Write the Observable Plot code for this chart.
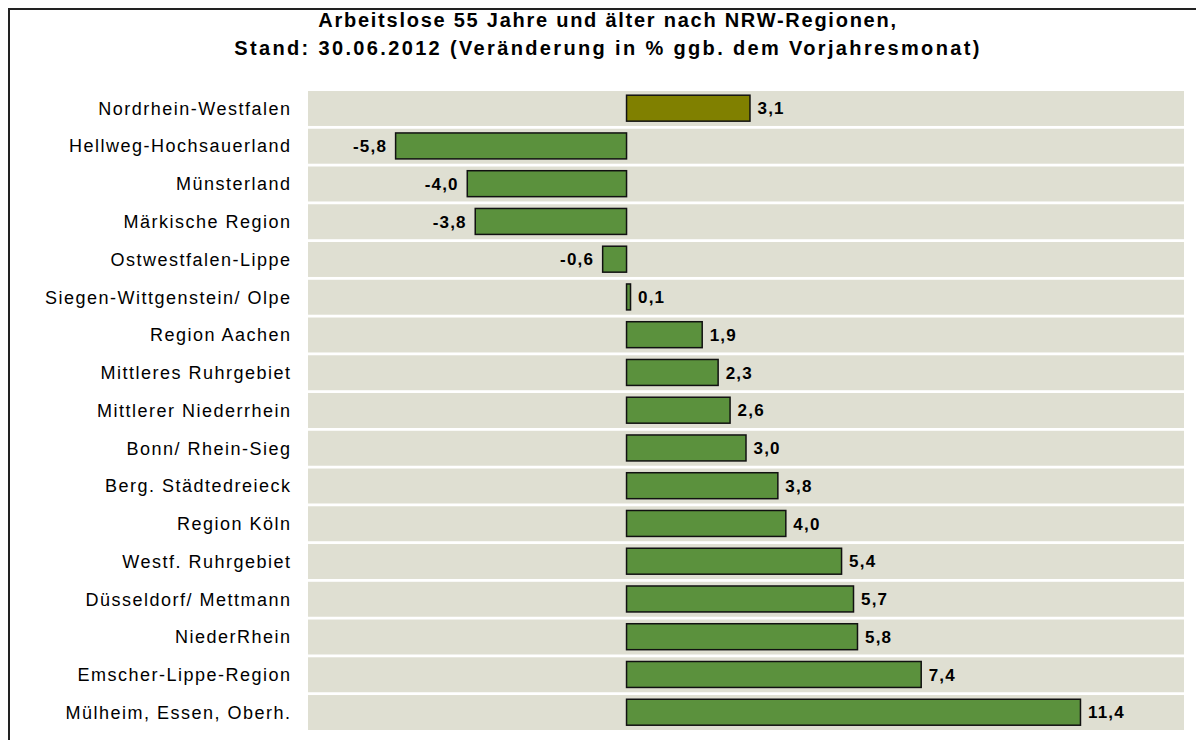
<!DOCTYPE html>
<html>
<head>
<meta charset="utf-8">
<script src="https://cdn.jsdelivr.net/npm/d3@7"></script>
<script src="https://cdn.jsdelivr.net/npm/@observablehq/plot@0.6"></script>
<style>
  body{margin:0;background:#fff;width:1196px;height:740px;overflow:hidden;position:relative;font-family:"Liberation Sans",Arial,sans-serif}
  #frame{position:absolute;left:8px;top:8px;width:1200px;height:800px;border:2px solid #222;box-sizing:border-box}
  #title{position:absolute;left:8px;width:1200px;top:6px;text-align:center;font-weight:bold;font-size:20px;line-height:28px;color:#000}
  #title .l1{letter-spacing:1.75px}
  #title .l2{letter-spacing:2.35px}
  #chart{position:absolute;left:0;top:0}
</style>
</head>
<body>
<div id="frame"></div>
<div id="title"><span class="l1">Arbeitslose 55 Jahre und älter nach NRW-Regionen,</span><br><span class="l2">Stand: 30.06.2012 (Veränderung in % ggb. dem Vorjahresmonat)</span></div>
<div id="chart"></div>
<script>
const regions = [
  "Nordrhein-Westfalen",
  "Hellweg-Hochsauerland",
  "Münsterland",
  "Märkische Region",
  "Ostwestfalen-Lippe",
  "Siegen-Wittgenstein/ Olpe",
  "Region Aachen",
  "Mittleres Ruhrgebiet",
  "Mittlerer Niederrhein",
  "Bonn/ Rhein-Sieg",
  "Berg. Städtedreieck",
  "Region Köln",
  "Westf. Ruhrgebiet",
  "Düsseldorf/ Mettmann",
  "NiederRhein",
  "Emscher-Lippe-Region",
  "Mülheim, Essen, Oberh."
];
const values = [3.1, -5.8, -4.0, -3.8, -0.6, 0.1, 1.9, 2.3, 2.6, 3.0, 3.8, 4.0, 5.4, 5.7, 5.8, 7.4, 11.4];
const totalRegion = "Nordrhein-Westfalen";
const xDomain = [-8, 14];

const data = regions.map((r, i) => ({region: r, value: values[i]}));
const fmt = v => v.toFixed(1).replace(".", ",");

const chart = Plot.plot({
  width: 1196,
  height: 740,
  marginLeft: 308,
  marginRight: 12,
  marginTop: 89.6,
  marginBottom: 8.6,
  style: {fontFamily: "'Liberation Sans', Arial, sans-serif", background: "transparent", color: "#000"},
  x: {domain: xDomain, axis: null, round: false},
  y: {domain: regions, padding: 0, axis: null, round: false},
  marks: [
    Plot.barX(regions, {y: d => d, x1: xDomain[0], x2: xDomain[1], fill: "#dfdfd2", insetTop: 1.4, insetBottom: 1.4}),
    Plot.barX(data.filter(d => d.region !== totalRegion), {y: "region", x: "value", fill: "#5b913d", stroke: "#111", strokeWidth: 1.5, insetTop: 5.6, insetBottom: 6.2}),
    Plot.barX(data.filter(d => d.region === totalRegion), {y: "region", x: "value", fill: "#808000", stroke: "#111", strokeWidth: 1.5, insetTop: 5.6, insetBottom: 6.2}),
    Plot.text(data.filter(d => d.value >= 0), {y: "region", x: "value", text: d => fmt(d.value), textAnchor: "start", dx: 7, fontSize: 17, fontWeight: "bold", fill: "#000", className: "val"}),
    Plot.text(data.filter(d => d.value < 0), {y: "region", x: "value", text: d => fmt(d.value), textAnchor: "end", dx: -9, fontSize: 17, fontWeight: "bold", fill: "#000", className: "val"}),
    Plot.axisY({tickSize: 0, tickPadding: 17, fontSize: 18, label: null, fill: "#000"})
  ]
});
chart.querySelectorAll("text").forEach(t => t.style.letterSpacing = "1.5px");
chart.querySelectorAll(".val text").forEach(t => t.style.letterSpacing = "1.2px");
document.getElementById("chart").appendChild(chart);
</script>
</body>
</html>
